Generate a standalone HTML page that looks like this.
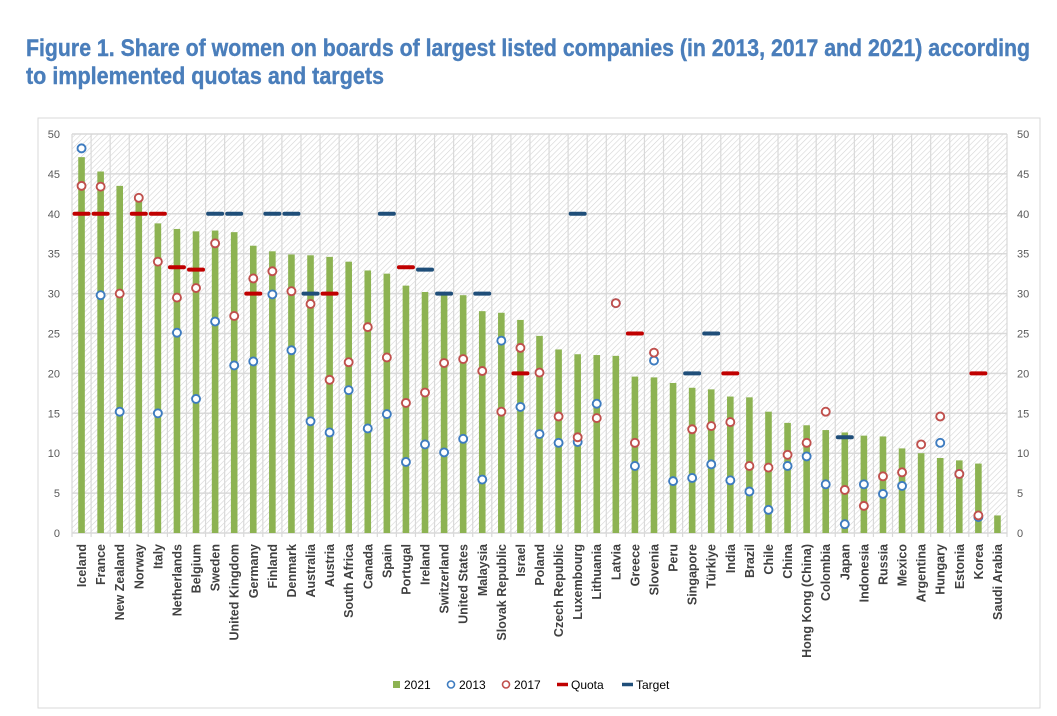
<!DOCTYPE html>
<html><head><meta charset="utf-8"><style>
body{margin:0;background:#fff;width:1057px;height:716px;overflow:hidden}
svg{display:block}
</style></head><body>
<svg id="c" width="1057" height="716" xmlns="http://www.w3.org/2000/svg">
<defs><pattern id="hatch" width="4" height="4" patternUnits="userSpaceOnUse" patternTransform="rotate(45)"><line x1="0" y1="0" x2="0" y2="4" stroke="#d4d4d4" stroke-width="1.2"/></pattern></defs>
<text x="26" y="56" fill="#4A7EBB" font-family="'Liberation Sans Narrow','Liberation Sans',sans-serif" font-weight="bold" font-size="24" textLength="1004" lengthAdjust="spacingAndGlyphs" stroke="#4A7EBB" stroke-width="0.4">Figure 1. Share of women on boards of largest listed companies (in 2013, 2017 and 2021) according</text>
<text x="26" y="84" fill="#4A7EBB" font-family="'Liberation Sans Narrow','Liberation Sans',sans-serif" font-weight="bold" font-size="24" textLength="358" lengthAdjust="spacingAndGlyphs" stroke="#4A7EBB" stroke-width="0.4">to implemented quotas and targets</text>
<rect x="38" y="118" width="1002" height="590" fill="none" stroke="#d9d9d9"/>
<g id="plot"></g>
</svg>
<script>
const categories=["Iceland","France","New Zealand","Norway","Italy","Netherlands","Belgium","Sweden","United Kingdom","Germany","Finland","Denmark","Australia","Austria","South Africa","Canada","Spain","Portugal","Ireland","Switzerland","United States","Malaysia","Slovak Republic","Israel","Poland","Czech Republic","Luxembourg","Lithuania","Latvia","Greece","Slovenia","Peru","Singapore","Türkiye","India","Brazil","Chile","China","Hong Kong (China)","Colombia","Japan","Indonesia","Russia","Mexico","Argentina","Hungary","Estonia","Korea","Saudi Arabia"];
const v2021=[47.1,45.3,43.5,42,38.8,38.1,37.8,37.9,37.7,36,35.3,34.9,34.8,34.6,34,32.9,32.5,31,30.2,30.1,29.8,27.8,27.6,26.7,24.7,23,22.4,22.3,22.2,19.6,19.5,18.8,18.2,18,17.1,17,15.2,13.8,13.5,12.9,12.6,12.2,12.1,10.6,10,9.4,9.1,8.7,2.2];
const v2013=[48.2,29.8,15.2,null,15,25.1,16.8,26.5,21,21.5,29.9,22.9,14,12.6,17.9,13.1,14.9,8.9,11.1,10.1,11.8,6.7,24.1,15.8,12.4,11.3,11.4,16.2,28.8,8.4,21.6,6.5,6.9,8.6,6.6,5.2,2.9,8.4,9.6,6.1,1.1,6.1,4.9,5.9,null,11.3,7.4,2.0,null];
const v2017=[43.5,43.4,30,42,34,29.5,30.7,36.3,27.2,31.9,32.8,30.3,28.7,19.2,21.4,25.8,22,16.3,17.6,21.3,21.8,20.3,15.2,23.2,20.1,14.6,12,14.4,28.8,11.3,22.6,null,13,13.4,13.9,8.4,8.2,9.8,11.3,15.2,5.4,3.4,7.1,7.6,11.1,14.6,7.4,2.2,null];
const quota=[40,40,null,40,40,33.3,33,null,null,30,null,null,null,30,null,null,null,33.3,null,null,null,null,null,20,null,null,null,null,null,25,null,null,null,null,20,null,null,null,null,null,null,null,null,null,null,null,null,20,null];
const target=[null,null,null,null,null,null,null,40,40,null,40,40,30,null,null,null,40,null,33,30,null,30,null,null,null,null,40,null,null,null,null,null,20,25,null,null,null,null,null,null,12,null,null,null,null,null,null,null,null];
const yTicks=[0,5,10,15,20,25,30,35,40,45,50];

const NS="http://www.w3.org/2000/svg";
const g=document.getElementById('plot');
const L=72,R=1007,T=134,B=533,yMax=50;
const bw=(R-L)/categories.length;
const xC=i=>L+bw*(i+0.5);
const yS=v=>B-(v/yMax)*(B-T);
function mk(t,a,p){const e=document.createElementNS(NS,t);for(const k in a)e.setAttribute(k,a[k]);(p||g).appendChild(e);return e;}
const F="'Liberation Sans',sans-serif";
let bg=mk('rect',{x:L,y:T,width:R-L,height:B-T,fill:'url(#hatch)'});


yTicks.forEach(t=>{
  let l=mk('line',{x1:L,x2:R,y1:yS(t),y2:yS(t),stroke:'#d9d9d9','stroke-width':1.5});
  
  
  let a=mk('text',{x:60,y:yS(t)+4,'text-anchor':'end','font-family':F,'font-size':11,fill:'#595959'});a.textContent=t;
  
  
  let b=mk('text',{x:1017,y:yS(t)+4,'font-family':F,'font-size':11,fill:'#595959'});b.textContent=t;
  
  
});
for(let i=0;i<=categories.length;i++){
  let l=mk('line',{x1:L+bw*i,x2:L+bw*i,y1:T,y2:B+4,stroke:'#d9d9d9','stroke-width':1.2});
  
  
}
categories.forEach((c,i)=>{
  const x=xC(i);
  let r=mk('rect',{x:x-3.3,y:yS(v2021[i]),width:6.6,height:B-yS(v2021[i]),fill:'#8DB352'});
  
  
  if(quota[i]!=null){let q=mk('line',{x1:x-7,x2:x+7,y1:yS(quota[i]),y2:yS(quota[i]),stroke:'#C00000','stroke-width':4,'stroke-linecap':'round'});
    
    }
  if(target[i]!=null){let q=mk('line',{x1:x-7,x2:x+7,y1:yS(target[i]),y2:yS(target[i]),stroke:'#1F4E79','stroke-width':4,'stroke-linecap':'round'});
    
    }
  if(v2013[i]!=null){let p=mk('circle',{cx:x,cy:yS(v2013[i]),r:4,fill:'#fff',stroke:'#3E7CC0','stroke-width':1.9});
    
    }
  if(v2017[i]!=null){let p=mk('circle',{cx:x,cy:yS(v2017[i]),r:4,fill:'#fff',stroke:'#C0504D','stroke-width':1.9});
    
    }
  let t=mk('text',{x:0,y:0,'text-anchor':'end','font-family':F,'font-size':12.5,'font-weight':'bold',fill:'#404040',transform:`translate(${x+4.5},544) rotate(-90)`});
  t.textContent=c;
  
  
});
const lg=mk('g',{});


const items=[['2021','bar',398],['2013','c13',453],['2017','c17',508],['Quota','q',565],['Target','t',630]];
items.forEach(([lab,k,x])=>{
  const y=686;
  let s;
  if(k==='bar')s=mk('rect',{x:x-5,y:y-5,width:7,height:7,fill:'#8DB352'},lg);
  if(k==='c13')s=mk('circle',{cx:x-2,cy:y-1.5,r:3.5,fill:'#fff',stroke:'#3E7CC0','stroke-width':1.6},lg);
  if(k==='c17')s=mk('circle',{cx:x-2,cy:y-1.5,r:3.5,fill:'#fff',stroke:'#C0504D','stroke-width':1.6},lg);
  if(k==='q')s=mk('line',{x1:x-8,x2:x+3,y1:y-1.5,y2:y-1.5,stroke:'#C00000','stroke-width':3.5},lg);
  if(k==='t')s=mk('line',{x1:x-8,x2:x+3,y1:y-1.5,y2:y-1.5,stroke:'#1F4E79','stroke-width':3.5},lg);
  
  
  let t=mk('text',{x:x+6,y:y+3,'font-family':F,'font-size':12,fill:'#000'},lg);t.textContent=lab;
  
  
});
</script>
</body></html>
